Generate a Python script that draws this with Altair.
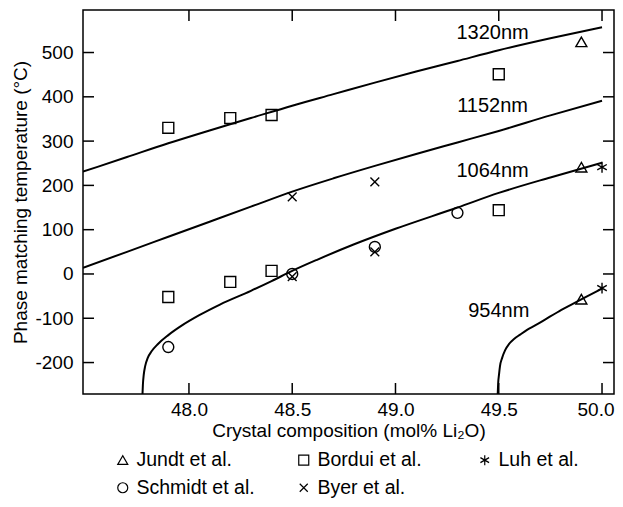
import altair as alt
import pandas as pd

FONT = "Liberation Sans"

# ---------------- axes ----------------
x_ticks = [48.0, 48.5, 49.0, 49.5, 50.0]
y_ticks = [-200, -100, 0, 100, 200, 300, 400, 500]
x_domain = [47.487, 50.058]
y_domain = [-271, 596]

# ---------------- theoretical curves ----------------
c1320_x = [47.487, 47.7, 47.9, 48.1, 48.3, 48.5, 48.7, 48.9, 49.1, 49.3, 49.5, 49.75, 50.0]
c1320_y = [231, 264, 295, 324, 352, 380, 406, 432, 457, 481, 505, 532, 557]

c1152_x = [47.487, 47.7, 47.9, 48.1, 48.3, 48.5, 48.7, 48.9, 49.1, 49.3, 49.5, 49.75, 50.0]
c1152_y = [14, 50, 84, 118, 152, 186, 216, 244, 271, 297, 323, 358, 391]

c1064_x = [47.775, 47.777, 47.781, 47.788, 47.80, 47.82, 47.85, 47.90, 47.97, 48.05, 48.15, 48.3, 48.4,
           48.5, 48.62, 48.8, 49.0, 49.3, 49.5, 49.75, 50.0]
c1064_y = [-272, -250, -228, -208, -190, -174, -158, -138, -115, -93, -69, -38, -16,
           7, 32, 67, 102, 150, 183, 218, 251]

c954_x = [49.495, 49.497, 49.5015, 49.506, 49.516, 49.531, 49.55, 49.574, 49.603, 49.637, 49.676,
          49.724, 49.782, 49.845, 49.918, 50.0]
c954_y = [-271, -248, -226, -208, -190, -172, -158, -147, -137, -126, -116,
          -103, -87, -71, -53, -33]

curve_names = ["1320nm", "1152nm", "1064nm", "954nm"]
curve_xs = [c1320_x, c1152_x, c1064_x, c954_x]
curve_ys = [c1320_y, c1152_y, c1064_y, c954_y]

# curve labels
label_text = ["1320nm", "1152nm", "1064nm", "954nm"]
label_x = [49.47, 49.47, 49.47, 49.5]
label_y = [545, 379, 232, -84]

# ---------------- measured points ----------------
sources = ["Jundt et al.", "Bordui et al.", "Luh et al.", "Schmidt et al.", "Byer et al."]
jundt_x = [49.9, 49.9, 49.9]
jundt_y = [524, 241, -57]
bordui_x = [47.9, 48.2, 48.4, 49.5, 47.9, 48.2, 48.4, 49.5]
bordui_y = [330, 352, 359, 451, -52, -18, 7, 144]
luh_x = [50.0, 50.0]
luh_y = [241, -32]
schmidt_x = [47.9, 48.5, 48.9, 49.3]
schmidt_y = [-165, 0, 61, 138]
byer_x = [48.5, 48.9, 48.5, 48.9]
byer_y = [174, 208, -6, 50]

src_x = [jundt_x, bordui_x, luh_x, schmidt_x, byer_x]
src_y = [jundt_y, bordui_y, luh_y, schmidt_y, byer_y]

shape_range = [
    "triangle-up",
    "square",
    "M0,-1L0,1M-0.87,-0.5L0.87,0.5M-0.87,0.5L0.87,-0.5",
    "circle",
    "M-0.8,-0.8L0.8,0.8M-0.8,0.8L0.8,-0.8",
]

# ---------------- tables ----------------
line_rows = []
for name, xs, ys in zip(curve_names, curve_xs, curve_ys):
    for i, (a, b) in enumerate(zip(xs, ys)):
        line_rows.append({"curve": name, "x": a, "y": b, "order": i})
lines_df = pd.DataFrame(line_rows)

pt_rows = []
for name, xs, ys in zip(sources, src_x, src_y):
    for a, b in zip(xs, ys):
        pt_rows.append({"source": name, "x": a, "y": b})
points_df = pd.DataFrame(pt_rows)

labels_df = pd.DataFrame({"label": label_text, "x": label_x, "y": label_y})
xt_df = pd.DataFrame({"x": x_ticks})
yt_df = pd.DataFrame({"y": y_ticks})

W, H = 531, 384
TICK = 11
xscale = alt.Scale(domain=x_domain, nice=False, zero=False)
yscale = alt.Scale(domain=y_domain, nice=False, zero=False)

X_AXIS = alt.Axis(orient="bottom", values=x_ticks, format=".1f", ticks=False, domain=False, grid=False,
                  labelFontSize=19, labelPadding=6, labelColor="black", labelFont=FONT,
                  labelFlush=13, labelFlushOffset=12,
                  title="Crystal composition (mol% Li\u2082O)", titleFontSize=19,
                  titleFontWeight="normal", titleColor="black", titleFont=FONT, titlePadding=2)
Y_AXIS = alt.Axis(orient="left", values=y_ticks, ticks=False, domain=False, grid=False,
                  labelExpr="datum.value < 0 ? '-' + abs(datum.value) : '' + datum.value",
                  labelFontSize=19, labelPadding=10, labelColor="black", labelFont=FONT,
                  title="Phase matching temperature (\u00b0C)", titleFontSize=19,
                  titleFontWeight="normal", titleColor="black", titleFont=FONT, titlePadding=4)


def X():
    return alt.X("x:Q", scale=xscale, axis=X_AXIS)


def Y():
    return alt.Y("y:Q", scale=yscale, axis=Y_AXIS)


# Layer: curves
curves = alt.Chart(lines_df).mark_line(color="black", strokeWidth=2, interpolate="monotone", clip=True).encode(
    x=X(), y=Y(), detail="curve:N", order="order:Q",
)

# Layer: data points
points = alt.Chart(points_df).mark_point(filled=False, color="black", strokeWidth=1.4, size=120, opacity=1).encode(
    x=X(), y=Y(),
    shape=alt.Shape("source:N", scale=alt.Scale(domain=sources, range=shape_range),
                    legend=alt.Legend(title=None, orient="none", legendX=30, legendY=440, columns=3,
                                      direction="horizontal", gridAlign="all", columnPadding=39,
                                      rowPadding=7, labelFontSize=19.5, labelFont=FONT, labelColor="black",
                                      labelOffset=4, labelLimit=300, symbolSize=100,
                                      symbolStrokeColor="black", symbolStrokeWidth=1.2,
                                      symbolFillColor="transparent")),
)

# Layer: curve labels
texts = alt.Chart(labels_df).mark_text(fontSize=20, font=FONT, color="black", align="center",
                                        baseline="middle").encode(
    x=X(), y=Y(), text="label:N",
)

# Inward tick marks on all four sides
tick_style = dict(color="black", strokeWidth=1.5)
ticks_bottom = alt.Chart(xt_df).mark_rule(**tick_style).encode(
    x=X(), y=alt.value(H), y2=alt.value(H - TICK))
ticks_top = alt.Chart(xt_df).mark_rule(**tick_style).encode(
    x=X(), y=alt.value(0), y2=alt.value(TICK))
ticks_left = alt.Chart(yt_df).mark_rule(**tick_style).encode(
    y=Y(), x=alt.value(0), x2=alt.value(TICK))
ticks_right = alt.Chart(yt_df).mark_rule(**tick_style).encode(
    y=Y(), x=alt.value(W), x2=alt.value(W - TICK))

chart = alt.layer(curves, ticks_bottom, ticks_top, ticks_left, ticks_right, points, texts).properties(
    width=W, height=H,
    autosize=alt.AutoSizeParams(type="none"),
    padding={"left": 75, "top": 2, "right": 1, "bottom": 104},
).configure(font=FONT).configure_view(stroke="black", strokeWidth=1.5)

chart.save("out.html", embed_options={"renderer": "svg", "actions": False})
